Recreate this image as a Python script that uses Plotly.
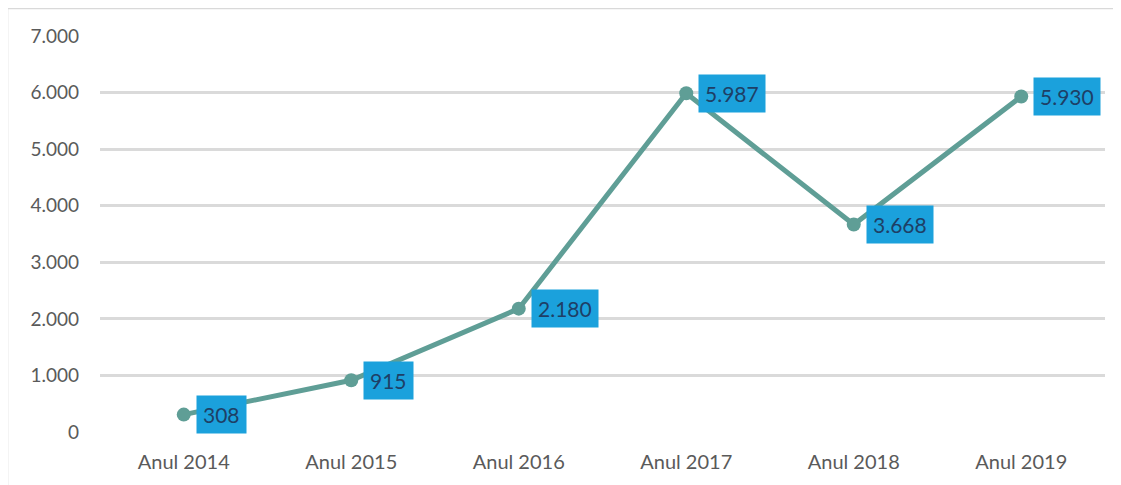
import plotly.graph_objects as go

categories = ["Anul 2014", "Anul 2015", "Anul 2016", "Anul 2017", "Anul 2018", "Anul 2019"]
values = [308, 915, 2180, 5987, 3668, 5930]
y_ticks = [0, 1000, 2000, 3000, 4000, 5000, 6000, 7000]

def fmt(v):
    return f"{v:,}".replace(",", ".")

fig = go.Figure()
fig.add_trace(go.Scatter(
    x=categories, y=values, mode="lines+markers",
    line=dict(color="#5f9e96", width=5),
    marker=dict(color="#5f9e96", size=14),
    hoverinfo="skip", showlegend=False,
))

for c, v in zip(categories, values):
    fig.add_annotation(
        x=c, y=v, text=fmt(v), showarrow=False,
        xanchor="left", yanchor="middle", xshift=12,
        bgcolor="#1ba1dc", borderpad=6,
        font=dict(family="Lato", size=21, color="#1e3f66"),
    )

# outer chart frame
fig.add_shape(type="rect", xref="paper", yref="paper",
              x0=-0.0925, x1=1.05, y0=-0.3, y1=1.0707,
              line=dict(color="#d9d9d9", width=2.5), layer="below")

fig.update_layout(
    width=1121, height=485,
    margin=dict(l=92, r=24, t=28, b=61),
    paper_bgcolor="white", plot_bgcolor="white",
    separators=",.",
    font=dict(family="Lato", color="#595959"),
    xaxis=dict(
        type="category", range=[-0.5, 5.5], showgrid=False, showline=False,
        ticks="", tickfont=dict(size=20, color="#5a5a5a"), ticklabelstandoff=16,
        fixedrange=True,
    ),
    yaxis=dict(
        range=[0, 7000], tickvals=y_ticks, ticktext=[fmt(t) for t in y_ticks],
        showgrid=True, gridcolor="#dadada", gridwidth=2.5,
        zeroline=False, showline=False, ticks="",
        tickfont=dict(size=19, color="#5a5a5a"), ticklabelstandoff=20,
        fixedrange=True,
    ),
)

fig.write_html("out.html")
